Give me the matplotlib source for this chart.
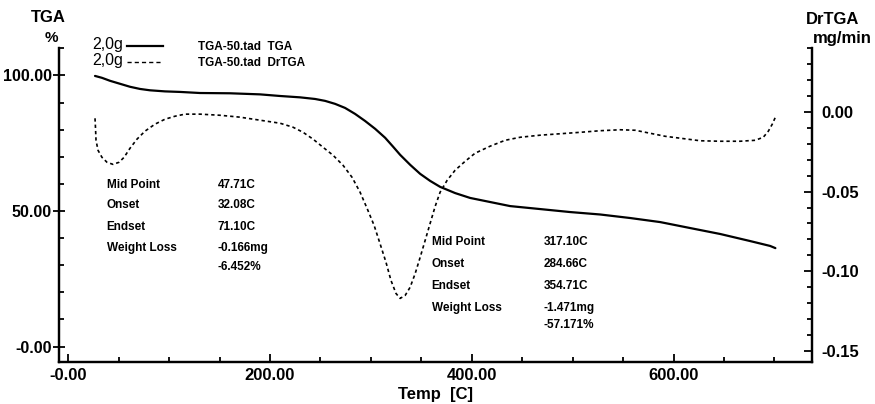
import matplotlib
matplotlib.use("Agg")
import matplotlib.pyplot as plt
from matplotlib.ticker import MultipleLocator, FixedLocator, FixedFormatter

# ---------------- data ----------------
tga_temp = [26.5, 33.4, 41.4, 51.3, 61.2, 71.1, 81, 95.9, 110.8, 130.6, 160.4,
            190, 210, 229.8, 244.7, 254.6, 264.5, 274.4, 284.3, 294.2, 304.2,
            314.1, 322, 329, 339, 348.8, 358.7, 368.6, 383.5, 398.4, 418.2, 438,
            467.8, 497.5, 527.3, 557, 586.8, 616.5, 646.4, 676, 695.8, 701]
tga_pct = [99.8, 99.1, 98.0, 96.9, 95.8, 95.0, 94.5, 94.1, 93.9, 93.5, 93.4,
           93.0, 92.4, 91.9, 91.3, 90.6, 89.5, 88.0, 85.8, 83.2, 80.3,
           77.0, 73.7, 70.7, 67.0, 63.7, 61.1, 58.9, 56.6, 54.8, 53.3, 51.8,
           50.7, 49.6, 48.7, 47.4, 45.9, 43.7, 41.5, 38.9, 37.1, 36.3]

dtg_temp = [26.5, 27, 27.5, 29.5, 33.4, 38.4, 44.3, 50.3, 55.3, 61.2, 68.1, 76,
            85.9, 95.8, 105.8, 115.7, 130.6, 150.4, 170.3, 190.1, 210, 222.8,
            232.8, 242.7, 252.6, 262.5, 272.4, 281.3, 289.3, 296.2, 303.2, 309,
            315, 319.9, 324.9, 329, 334, 338.9, 343.9, 348.8, 353.8, 358.7, 363.7,
            368.6, 375.6, 383.5, 393.4, 403.3, 418.2, 433.1, 448, 467.8, 487.6,
            507.5, 527.3, 547.1, 562, 576.9, 591.8, 606.7, 626.5, 646.4, 666, 681,
            689, 694, 697.9, 701]
dtg_val = [-0.0040, -0.0102, -0.0178, -0.0241, -0.0285, -0.0316, -0.0329, -0.0316,
           -0.0285, -0.0228, -0.0171, -0.0121, -0.0077, -0.0046, -0.0027, -0.0014,
           -0.0014, -0.0021, -0.0033, -0.0052, -0.0071, -0.0096, -0.0128, -0.0171,
           -0.0222, -0.0272, -0.0335, -0.0410, -0.0504, -0.0605, -0.0712, -0.0825,
           -0.0944, -0.1057, -0.1139, -0.1170, -0.1151, -0.1100, -0.1014, -0.0913,
           -0.0806, -0.0700, -0.0593, -0.0504, -0.0429, -0.0366, -0.0310, -0.0259,
           -0.0215, -0.0178, -0.0159, -0.0146, -0.0137, -0.0128, -0.0118, -0.0112,
           -0.0115, -0.0134, -0.0153, -0.0165, -0.0181, -0.0184, -0.0184, -0.0178,
           -0.0159, -0.0121, -0.0077, -0.0033]

x_major = [0, 200, 400, 600]
x_major_labels = ["-0.00", "200.00", "400.00", "600.00"]
yl_major = [0, 50, 100]
yl_major_labels = ["-0.00", "50.00", "100.00"]
yr_major = [-0.15, -0.10, -0.05, 0.00]
yr_major_labels = ["-0.15", "-0.10", "-0.05", "0.00"]

legend_rows = [("2,0g", "TGA-50.tad  TGA"), ("2,0g", "TGA-50.tad  DrTGA")]
ann1_labels = ["Mid Point", "Onset", "Endset", "Weight Loss", ""]
ann1_values = ["47.71C", "32.08C", "71.10C", "-0.166mg", "-6.452%"]
ann2_labels = ["Mid Point", "Onset", "Endset", "Weight Loss", ""]
ann2_values = ["317.10C", "284.66C", "354.71C", "-1.471mg", "-57.171%"]

# ---------------- figure ----------------
W, H = 875, 404
plt.rcParams['font.family'] = ['Liberation Sans', 'DejaVu Sans']
fig = plt.figure(figsize=(W / 100, H / 100), dpi=100)

def fx(px):
    return px / W

def fy(py):
    return 1 - py / H

ax_l, ax_r, ax_t, ax_b = 59, 812, 48, 362
ax = fig.add_axes([fx(ax_l), fy(ax_b), fx(ax_r) - fx(ax_l), fy(ax_t) - fy(ax_b)])
ax2 = ax.twinx()

ax.plot(tga_temp, tga_pct, color='black', lw=1.6, solid_capstyle='round',
        solid_joinstyle='round')
ax2.plot(dtg_temp, dtg_val, color='black', lw=1.2, linestyle=(0, (2.0, 1.8)))

ax.set_xlim(-9.2, 737.3)
ax.set_ylim(-5.7, 110.1)
ax2.set_ylim(-0.1569, 0.0401)

for a in (ax, ax2):
    a.spines['top'].set_visible(False)
    for s in ('left', 'right', 'bottom'):
        a.spines[s].set_linewidth(1.6)

# x ticks
ax.xaxis.set_major_locator(FixedLocator(x_major))
ax.xaxis.set_major_formatter(FixedFormatter(x_major_labels))
ax.xaxis.set_minor_locator(MultipleLocator(50))
ax.tick_params(axis='x', which='major', direction='in', length=6, width=1.3,
               labelsize=12, pad=4)
ax.tick_params(axis='x', which='minor', direction='in', length=3.6, width=1.3)

# left y ticks
ax.yaxis.set_major_locator(FixedLocator(yl_major))
ax.yaxis.set_major_formatter(FixedFormatter(yl_major_labels))
ax.yaxis.set_minor_locator(MultipleLocator(10))
ax.tick_params(axis='y', which='major', direction='inout', length=8, width=1.3,
               labelsize=11.5, pad=1)
ax.tick_params(axis='y', which='minor', direction='in', length=3.6, width=1.3)

# right y ticks
ax2.yaxis.set_major_locator(FixedLocator(yr_major))
ax2.yaxis.set_major_formatter(FixedFormatter(yr_major_labels))
ax2.yaxis.set_minor_locator(MultipleLocator(0.01))
ax2.tick_params(axis='y', which='major', direction='in', length=6, width=1.3,
                labelsize=12, pad=7)
ax2.tick_params(axis='y', which='minor', direction='in', length=3.6, width=1.3)

for lab in ax.get_xticklabels() + ax.get_yticklabels() + ax2.get_yticklabels():
    lab.set_fontweight('bold')

ax.set_xlabel("Temp  [C]", fontsize=12, fontweight='bold', labelpad=3)

# axis titles
fig.text(fx(48), fy(18), "TGA", ha='center', va='center', fontsize=12, fontweight='bold')
fig.text(fx(51), fy(38), "%", ha='center', va='center', fontsize=11, fontweight='bold')
fig.text(fx(833), fy(20), "DrTGA", ha='center', va='center', fontsize=12, fontweight='bold')
fig.text(fx(842), fy(38), "mg/min", ha='center', va='center', fontsize=12, fontweight='bold')

# legend
leg_y = [45, 61]
leg_styles = ['-', (0, (3, 2.2))]
leg_lw = [1.6, 1.0]
for (g, name), yy, ls, lw in zip(legend_rows, leg_y, leg_styles, leg_lw):
    fig.text(fx(92), fy(yy), g, ha='left', va='center', fontsize=11.5)
    fig.add_artist(plt.Line2D([fx(127), fx(163)], [fy(yy + 1), fy(yy + 1)],
                              color='black', lw=lw, linestyle=ls,
                              transform=fig.transFigure))
    fig.text(fx(198), fy(yy + 2), name, ha='left', va='center', fontsize=8.5,
             fontweight='bold')

# annotation blocks
def block(x_lab, x_val, ys, labels, values):
    for yy, l, v in zip(ys, labels, values):
        if l:
            fig.text(fx(x_lab), fy(yy), l, ha='left', va='center', fontsize=8.5,
                     fontweight='bold')
        fig.text(fx(x_val), fy(yy), v, ha='left', va='center', fontsize=8.5,
                 fontweight='bold')

block(106.7, 218, [185, 205, 226.7, 248.3, 266.7], ann1_labels, ann1_values)
block(431.7, 543.3, [241.7, 264, 286, 307.7, 325], ann2_labels, ann2_values)

fig.savefig("out.png", dpi=100)
